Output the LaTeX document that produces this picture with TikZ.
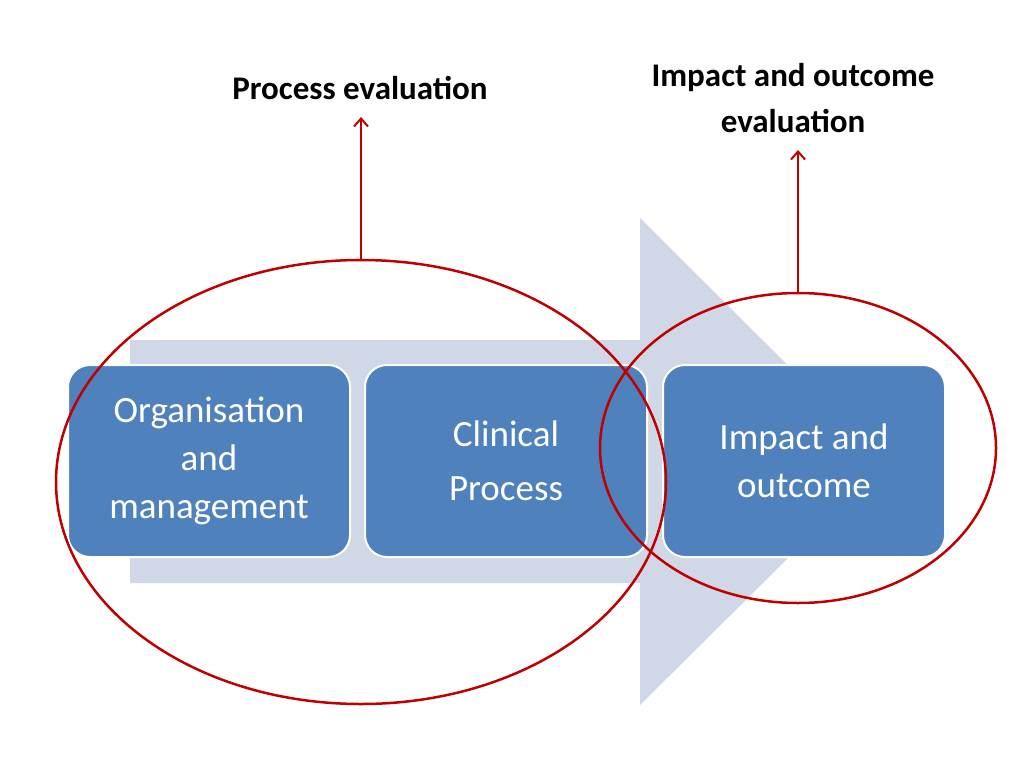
\documentclass[tikz,border=0pt]{standalone}
\usepackage{fontspec}
\setmainfont{Carlito}
\usetikzlibrary{arrows.meta}
\definecolor{boxblue}{RGB}{79,129,189}
\definecolor{arrowgray}{RGB}{208,216,232}
\definecolor{darkred}{RGB}{192,0,0}
\begin{document}
\begin{tikzpicture}[x=1pt,y=-1pt,
  box/.style={draw=white,line width=2pt,fill=boxblue,rounded corners=22pt,minimum width=282pt,minimum height=192pt,text=white,align=center,font=\fontsize{37}{48}\selectfont},
  ring/.style={draw=darkred,line width=2.5pt},
  up/.style={draw=darkred,line width=2pt,-{Straight Barb[length=8pt,width=14pt]}},
  lab/.style={font=\bfseries\fontsize{33}{46}\selectfont,align=center}]
\useasboundingbox (0,0) rectangle (1024,768);
\fill[arrowgray] (130,340) -- (640,340) -- (640,218) -- (885,462) -- (640,705) -- (640,583) -- (130,583) -- cycle;
\node[box] (b1) at (209,461) {Organisation\\and\\management};
\node[box] (b2) at (506,461) {Clinical\\[6pt]Process};
\node[box] (b3) at (804,461) {Impact and\\outcome};
\draw[ring] (361,482) ellipse [x radius=305, y radius=222];
\draw[ring] (798,448) ellipse [x radius=198, y radius=155];
\coordinate (e1) at (361,260);
\coordinate (e2) at (798,293);
\node[lab] (t1) at (360,88) {Process evaluation};
\node[lab] (t2) at (793,98) {Impact and outcome\\evaluation};
\draw[up] (e1) -- (361,117);
\draw[up] (e2) -- (798,150);
\end{tikzpicture}
\end{document}
